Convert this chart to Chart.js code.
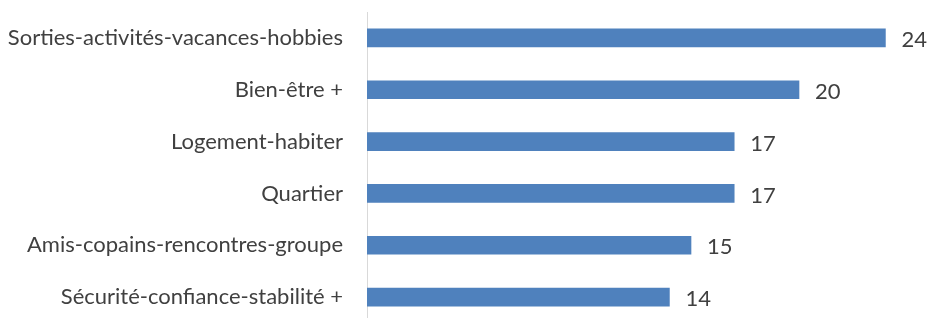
<!DOCTYPE html>
<html>
<head>
<meta charset="utf-8">
<script src="https://cdn.jsdelivr.net/npm/chart.js@4"></script>
<style>
html,body{margin:0;padding:0;background:#fff;overflow:hidden;}
#wrap{width:928px;height:318px;overflow:hidden;position:relative;}
#c{position:absolute;left:0;top:0;}
</style>
</head>
<body>
<div id="wrap"><canvas id="c" width="928" height="324"></canvas></div>
<script>
const categories = [
  "Sorties-activités-vacances-hobbies",
  "Bien-être +",
  "Logement-habiter",
  "Quartier",
  "Amis-copains-rencontres-groupe",
  "Sécurité-confiance-stabilité +"
];
const values = [24, 20, 17, 17, 15, 14];
const xMin = 0;
const xMax = 25;

const FONT = "Lato, 'Open Sans', sans-serif";

const valueLabels = {
  id: 'valueLabels',
  afterDatasetsDraw(chart) {
    const ctx = chart.ctx;
    const meta = chart.getDatasetMeta(0);
    ctx.save();
    ctx.font = "22px " + FONT;
    ctx.fillStyle = "#404040";
    ctx.textAlign = "left";
    ctx.textBaseline = "middle";
    meta.data.forEach((bar, i) => {
      ctx.fillText(String(chart.data.datasets[0].data[i]), bar.x + 16, bar.y + 2);
    });
    ctx.restore();
  }
};

new Chart(document.getElementById('c'), {
  type: 'bar',
  data: {
    labels: categories,
    datasets: [{
      data: values,
      backgroundColor: '#4F81BD',
      barThickness: 18
    }]
  },
  options: {
    indexAxis: 'y',
    responsive: false,
    animation: false,
    devicePixelRatio: 1,
    layout: { padding: { top: 12, right: 21, bottom: 1, left: 0 } },
    plugins: { legend: { display: false }, tooltip: { enabled: false } },
    scales: {
      x: { display: false, min: xMin, max: xMax },
      y: {
        afterFit(s) { s.width = 367; s.paddingTop = 0; s.paddingBottom = 0; },
        grid: { display: false, drawTicks: false },
        border: { display: true, color: '#d9d9d9', width: 1 },
        ticks: { color: '#404040', font: { family: FONT, size: 22 }, padding: 24 }
      }
    }
  },
  plugins: [valueLabels]
});
</script>
</body>
</html>
